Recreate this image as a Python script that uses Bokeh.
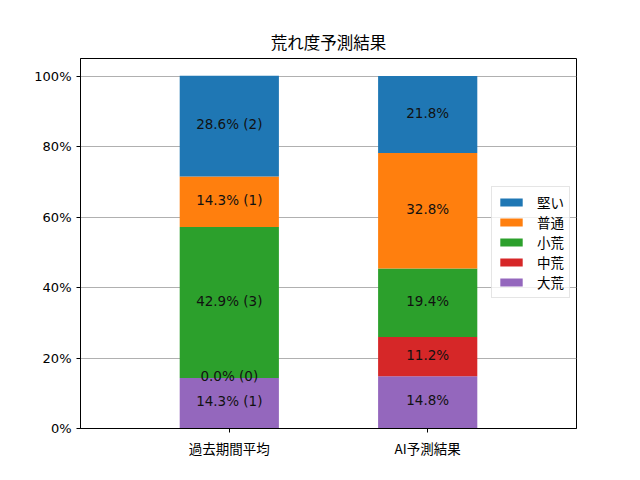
from bokeh.plotting import figure
from bokeh.models import ColumnDataSource, Range1d, FixedTicker, Legend, LegendItem
from bokeh.core.properties import value
from bokeh.embed import file_html
from bokeh.resources import INLINE

title = "荒れ度予測結果"
groups = ["過去期間平均", "AI予測結果"]
levels = ["大荒", "中荒", "小荒", "普通", "堅い"]  # bottom to top
colors = ["#9467bd", "#d62728", "#2ca02c", "#ff7f0e", "#1f77b4"]
past_pct = [14.3, 0.0, 42.9, 14.3, 28.6]
past_count = [1, 0, 3, 1, 2]
ai_pct = [14.8, 11.2, 19.4, 32.8, 21.8]
y_ticks = [0, 20, 40, 60, 80, 100]
y_tick_labels = ["0%", "20%", "40%", "60%", "80%", "100%"]

CJK = "Noto Sans CJK JP"
LAT = "DejaVu Sans"

xs = list(range(len(groups)))
data = {"x": xs}
for i, lv in enumerate(levels):
    data[lv] = [past_pct[i], ai_pct[i]]
src = ColumnDataSource(data)

p = figure(width=632, height=472, output_backend="svg", toolbar_location=None,
           x_range=Range1d(-0.75, 1.75), y_range=Range1d(0, 105),
           min_border_left=80, min_border_right=56, min_border_top=58, min_border_bottom=44)

renderers = p.vbar_stack(levels, x="x", width=0.5, source=src, color=colors, line_color=None)

# labels
lx, ly, lt = [], [], []
for gi, (pcts, counts) in enumerate([(past_pct, past_count), (ai_pct, None)]):
    bottom = 0.0
    for i, v in enumerate(pcts):
        lx.append(gi)
        ly.append(bottom + v / 2)
        lt.append(f"{v:.1f}% ({counts[i]})" if counts is not None else f"{v:.1f}%")
        bottom += v
p.text(x=lx, y=ly, text=lt, text_align="center", text_baseline="middle", y_offset=-2,
       text_font=value(LAT), text_font_size="13.5px", text_color="#111111")

# legend (reverse order)
items = [LegendItem(label=levels[i], renderers=[renderers[i]]) for i in reversed(range(len(levels)))]
legend = Legend(items=items, location=(411, 130))
legend.label_text_font = CJK
legend.label_text_font_size = "13.5px"
legend.label_text_color = "black"
legend.glyph_width = 28
legend.glyph_height = 10
legend.label_height = 14
legend.label_standoff = 12
legend.spacing = 0
legend.padding = 5
legend.margin = 0
legend.border_line_color = "#cccccc"
legend.border_line_width = 1
legend.background_fill_alpha = 0.8
p.add_layout(legend)

# title
p.title.text = title
p.title.align = "center"
p.title.text_font = CJK
p.title.text_font_size = "16.5px"
p.title.text_font_style = "normal"
p.title.text_color = "black"

# axes
p.xaxis.ticker = FixedTicker(ticks=xs)
p.xaxis.major_label_overrides = {x: g for x, g in zip(xs, groups)}
p.yaxis.ticker = FixedTicker(ticks=y_ticks)
p.yaxis.major_label_overrides = {t: l for t, l in zip(y_ticks, y_tick_labels)}
p.xaxis.major_label_text_font = CJK
p.xaxis.major_label_text_font_size = "13.5px"
p.yaxis.major_label_text_font = LAT
p.yaxis.major_label_text_font_size = "13px"
for ax in (p.xaxis, p.yaxis):
    ax.major_label_text_color = "black"
    ax.axis_line_color = "black"
    ax.major_tick_line_color = "black"
    ax.major_tick_in = 0
    ax.major_tick_out = 4
    ax.minor_tick_line_color = None

p.xgrid.grid_line_color = None
p.ygrid.grid_line_color = "#b0b0b0"
p.ygrid.grid_line_width = 1
p.outline_line_color = "black"
p.outline_line_width = 1
p.background_fill_color = "white"

open("out.html", "w").write(file_html(p, INLINE))
